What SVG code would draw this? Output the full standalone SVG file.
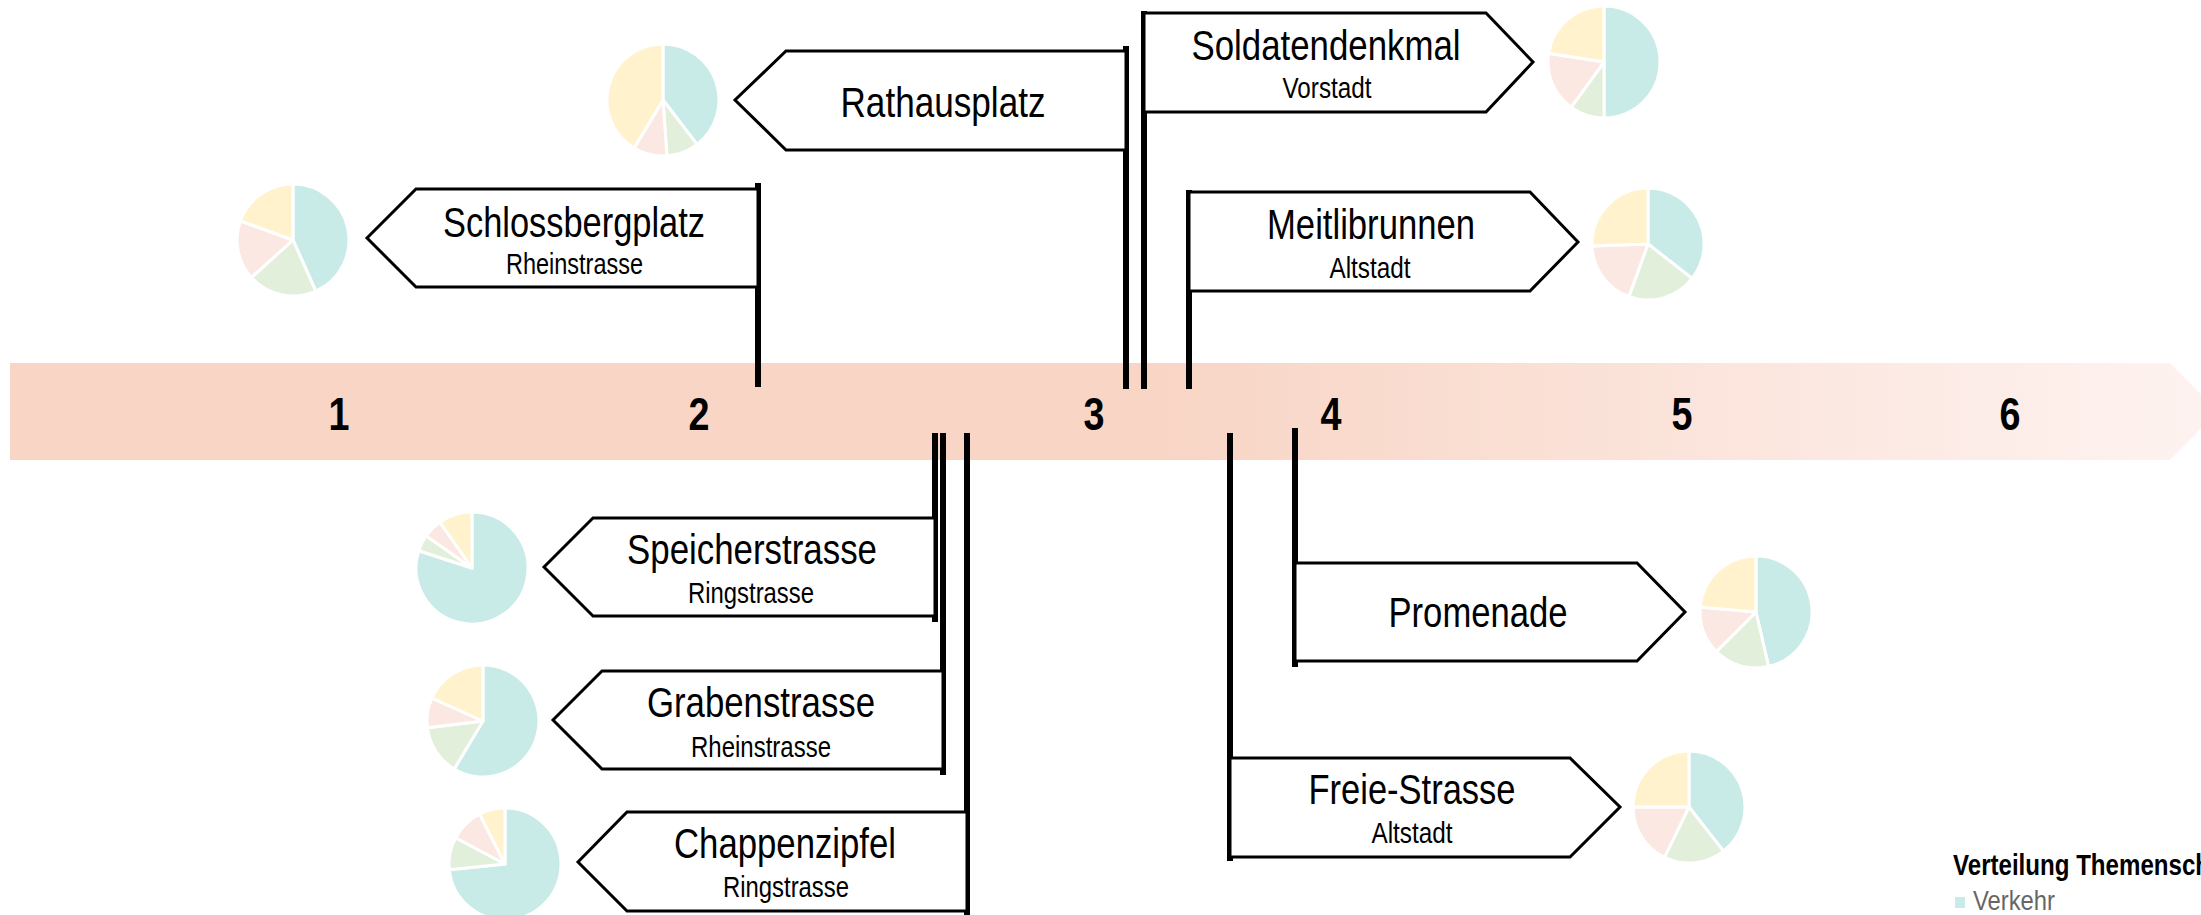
<svg xmlns="http://www.w3.org/2000/svg" width="2201" height="915" viewBox="0 0 2201 915">
<defs>
<linearGradient id="band" gradientUnits="userSpaceOnUse" x1="10" y1="0" x2="2218" y2="0">
<stop offset="0" stop-color="#F8D5C5"/>
<stop offset="0.52" stop-color="#F8D5C5"/>
<stop offset="1" stop-color="#FEF3F1"/>
</linearGradient>
<style>
text{font-family:'Liberation Sans Narrow','Arial Narrow','Liberation Sans',Arial,sans-serif;fill:#000}
.t{font-size:42px;text-anchor:middle}
.s{font-size:29px;text-anchor:middle}
.n{font-size:46px;font-weight:bold;text-anchor:middle}
.sign{fill:#fff;stroke:#000;stroke-width:3;stroke-linejoin:miter}
.pole{stroke:#000;stroke-width:6;fill:none}
.pie path{stroke:#fff;stroke-width:3;stroke-linejoin:round}
.v{fill:#C9EBE7}.g{fill:#E2EFDA}.p{fill:#FCE8E3}.y{fill:#FFF2CC}
</style>
</defs>
<rect width="2201" height="915" fill="#fff"/>
<g id="timeline">
<path d="M10,363 H2170 L2218,411.5 L2170,460 H10 Z" fill="url(#band)"/>
<text class="n" x="339" y="430" textLength="21" lengthAdjust="spacingAndGlyphs">1</text>
<text class="n" x="699" y="430" textLength="21" lengthAdjust="spacingAndGlyphs">2</text>
<text class="n" x="1094" y="430" textLength="21" lengthAdjust="spacingAndGlyphs">3</text>
<text class="n" x="1331" y="430" textLength="21" lengthAdjust="spacingAndGlyphs">4</text>
<text class="n" x="1682" y="430" textLength="21" lengthAdjust="spacingAndGlyphs">5</text>
<text class="n" x="2010" y="430" textLength="21" lengthAdjust="spacingAndGlyphs">6</text>
</g>
<g id="connectors">
<line class="pole" x1="758" y1="183" x2="758" y2="387"/>
<line class="pole" x1="1126" y1="46" x2="1126" y2="389"/>
<line class="pole" x1="1144" y1="11" x2="1144" y2="389"/>
<line class="pole" x1="1189" y1="190" x2="1189" y2="389"/>
<line class="pole" x1="935" y1="433" x2="935" y2="622"/>
<line class="pole" x1="943" y1="433" x2="943" y2="775"/>
<line class="pole" x1="967" y1="433" x2="967" y2="915"/>
<line class="pole" x1="1295" y1="428" x2="1295" y2="667"/>
<line class="pole" x1="1230" y1="433" x2="1230" y2="861"/>
</g>
<g id="schlossbergplatz">
<polygon class="sign" points="758,189 416,189 367,238 416,287 758,287"/>
<text class="t" x="574" y="237" textLength="262" lengthAdjust="spacingAndGlyphs">Schlossbergplatz</text>
<text class="s" x="574.5" y="274" textLength="137" lengthAdjust="spacingAndGlyphs">Rheinstrasse</text>
<g class="pie">
<path class="v" d="M293,240 L293,184 A56,56 0 0,1 315.78,291.16 Z"/>
<path class="g" d="M293,240 L315.78,291.16 A56,56 0 0,1 251.39,277.47 Z"/>
<path class="p" d="M293,240 L251.39,277.47 A56,56 0 0,1 240.38,220.85 Z"/>
<path class="y" d="M293,240 L240.38,220.85 A56,56 0 0,1 293,184 Z"/>
</g>
</g>
<g id="rathausplatz">
<polygon class="sign" points="1126,51 786,51 735,100 786,150 1126,150"/>
<text class="t" x="943" y="117" textLength="205" lengthAdjust="spacingAndGlyphs">Rathausplatz</text>
<g class="pie">
<path class="v" d="M663,100 L663,44 A56,56 0 0,1 697.09,144.43 Z"/>
<path class="g" d="M663,100 L697.09,144.43 A56,56 0 0,1 666.91,155.86 Z"/>
<path class="p" d="M663,100 L666.91,155.86 A56,56 0 0,1 634.16,148 Z"/>
<path class="y" d="M663,100 L634.16,148 A56,56 0 0,1 663,44 Z"/>
</g>
</g>
<g id="soldatendenkmal">
<polygon class="sign" points="1144,13 1486,13 1533,62 1486,112 1144,112"/>
<text class="t" x="1326" y="60" textLength="269" lengthAdjust="spacingAndGlyphs">Soldatendenkmal</text>
<text class="s" x="1327" y="98" textLength="89" lengthAdjust="spacingAndGlyphs">Vorstadt</text>
<g class="pie">
<path class="v" d="M1604,62 L1604,6 A56,56 0 0,1 1604,118 Z"/>
<path class="g" d="M1604,62 L1604,118 A56,56 0 0,1 1571.08,107.3 Z"/>
<path class="p" d="M1604,62 L1571.08,107.3 A56,56 0 0,1 1548.69,53.24 Z"/>
<path class="y" d="M1604,62 L1548.69,53.24 A56,56 0 0,1 1604,6 Z"/>
</g>
</g>
<g id="meitlibrunnen">
<polygon class="sign" points="1189,192 1530,192 1578,242 1530,291 1189,291"/>
<text class="t" x="1371" y="239" textLength="208" lengthAdjust="spacingAndGlyphs">Meitlibrunnen</text>
<text class="s" x="1370" y="278" textLength="81" lengthAdjust="spacingAndGlyphs">Altstadt</text>
<g class="pie">
<path class="v" d="M1648,244 L1648,188 A56,56 0 0,1 1692.13,278.48 Z"/>
<path class="g" d="M1648,244 L1692.13,278.48 A56,56 0 0,1 1628.85,296.62 Z"/>
<path class="p" d="M1648,244 L1628.85,296.62 A56,56 0 0,1 1592.03,245.95 Z"/>
<path class="y" d="M1648,244 L1592.03,245.95 A56,56 0 0,1 1648,188 Z"/>
</g>
</g>
<g id="speicherstrasse">
<polygon class="sign" points="935,518 593,518 544,567 593,616 935,616"/>
<text class="t" x="752" y="564" textLength="250" lengthAdjust="spacingAndGlyphs">Speicherstrasse</text>
<text class="s" x="751" y="603" textLength="126" lengthAdjust="spacingAndGlyphs">Ringstrasse</text>
<g class="pie">
<path class="v" d="M472,568 L472,512 A56,56 0 1,1 418.74,550.7 Z"/>
<path class="g" d="M472,568 L418.74,550.7 A56,56 0 0,1 426.13,535.88 Z"/>
<path class="p" d="M472,568 L426.13,535.88 A56,56 0 0,1 439.88,522.13 Z"/>
<path class="y" d="M472,568 L439.88,522.13 A56,56 0 0,1 472,512 Z"/>
</g>
</g>
<g id="grabenstrasse">
<polygon class="sign" points="943,671 602,671 553,720 602,769 943,769"/>
<text class="t" x="761" y="717" textLength="228" lengthAdjust="spacingAndGlyphs">Grabenstrasse</text>
<text class="s" x="761" y="757" textLength="140" lengthAdjust="spacingAndGlyphs">Rheinstrasse</text>
<g class="pie">
<path class="v" d="M483,721 L483,665 A56,56 0 1,1 454.16,769 Z"/>
<path class="g" d="M483,721 L454.16,769 A56,56 0 0,1 427.42,727.83 Z"/>
<path class="p" d="M483,721 L427.42,727.83 A56,56 0 0,1 431.84,698.22 Z"/>
<path class="y" d="M483,721 L431.84,698.22 A56,56 0 0,1 483,665 Z"/>
</g>
</g>
<g id="chappenzipfel">
<polygon class="sign" points="967,812 627,812 578,862 627,911 967,911"/>
<text class="t" x="785" y="858" textLength="222" lengthAdjust="spacingAndGlyphs">Chappenzipfel</text>
<text class="s" x="786" y="897" textLength="126" lengthAdjust="spacingAndGlyphs">Ringstrasse</text>
<g class="pie">
<path class="v" d="M505,864 L505,808 A56,56 0 1,1 449.31,869.85 Z"/>
<path class="g" d="M505,864 L449.31,869.85 A56,56 0 0,1 455.56,837.71 Z"/>
<path class="p" d="M505,864 L455.56,837.71 A56,56 0 0,1 479.58,814.1 Z"/>
<path class="y" d="M505,864 L479.58,814.1 A56,56 0 0,1 505,808 Z"/>
</g>
</g>
<g id="promenade">
<polygon class="sign" points="1295,563 1637,563 1685,612 1637,661 1295,661"/>
<text class="t" x="1478" y="627" textLength="179" lengthAdjust="spacingAndGlyphs">Promenade</text>
<g class="pie">
<path class="v" d="M1756,612 L1756,556 A56,56 0 0,1 1768.6,666.57 Z"/>
<path class="g" d="M1756,612 L1768.6,666.57 A56,56 0 0,1 1716.4,651.6 Z"/>
<path class="p" d="M1756,612 L1716.4,651.6 A56,56 0 0,1 1700.21,607.12 Z"/>
<path class="y" d="M1756,612 L1700.21,607.12 A56,56 0 0,1 1756,556 Z"/>
</g>
</g>
<g id="freie-strasse">
<polygon class="sign" points="1230,758 1570,758 1620,807 1570,857 1230,857"/>
<text class="t" x="1412" y="804" textLength="207" lengthAdjust="spacingAndGlyphs">Freie-Strasse</text>
<text class="s" x="1412" y="843" textLength="81" lengthAdjust="spacingAndGlyphs">Altstadt</text>
<g class="pie">
<path class="v" d="M1689,807 L1689,751 A56,56 0 0,1 1723.48,851.13 Z"/>
<path class="g" d="M1689,807 L1723.48,851.13 A56,56 0 0,1 1664.45,857.33 Z"/>
<path class="p" d="M1689,807 L1664.45,857.33 A56,56 0 0,1 1633,807 Z"/>
<path class="y" d="M1689,807 L1633,807 A56,56 0 0,1 1689,751 Z"/>
</g>
</g>
<g id="legend">
<text x="1953" y="875" style="font-size:29px;font-weight:bold" textLength="257" lengthAdjust="spacingAndGlyphs">Verteilung Themensch</text>
<rect x="1955" y="897" width="10" height="11" class="v"/>
<text x="1973" y="910" style="font-size:28px;fill:#666" textLength="82" lengthAdjust="spacingAndGlyphs">Verkehr</text>
</g>
</svg>
